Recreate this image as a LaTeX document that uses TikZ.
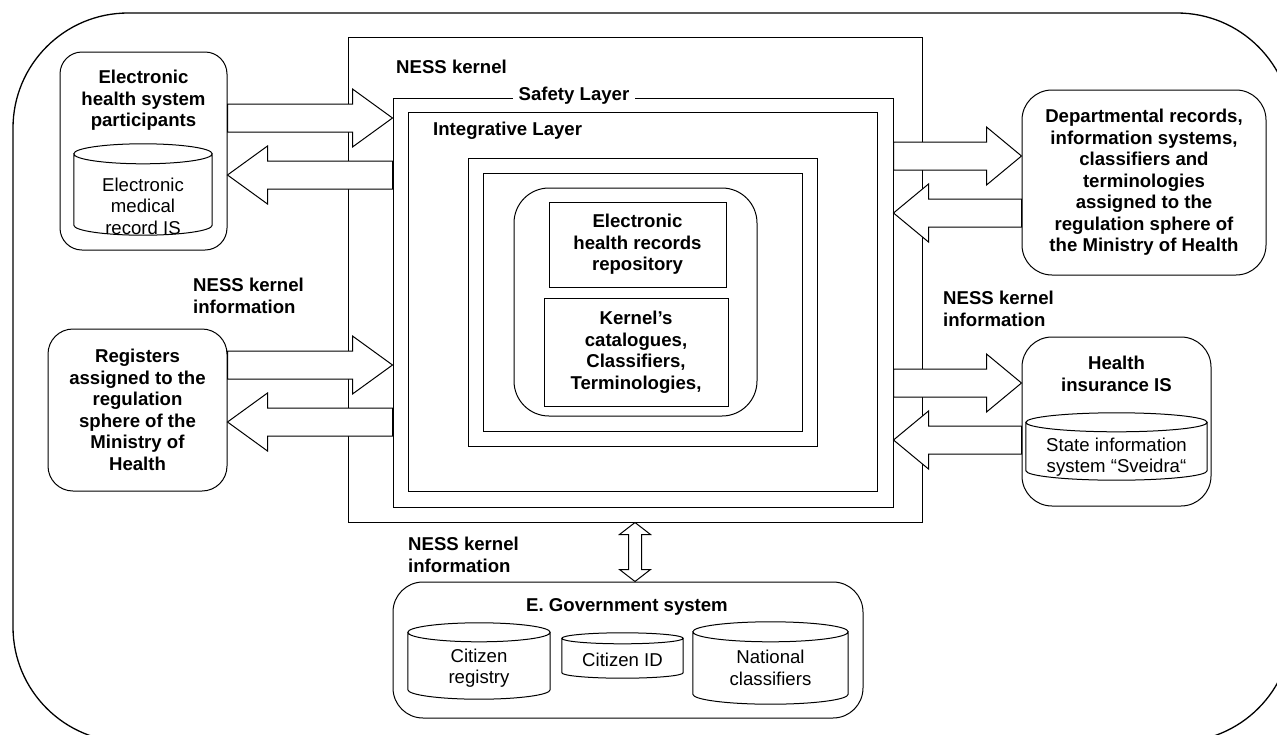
\documentclass[tikz,border=0pt]{standalone}
\usepackage{fontspec}
\setmainfont{Liberation Sans}
\usepackage{tikz}
\usetikzlibrary{calc}
\newcommand{\dfont}{\fontsize{18.6}{21.5}\selectfont}
% cylinder outline round a named node: #1 node, #2 ellipse half height (pt)
\newcommand{\dbdraw}[2]{%
  \draw[line width=1pt, fill=white] let \p1=(#1.north west), \p2=(#1.south east), \n1={(\x2-\x1)/2} in
    (\x1,{\y1-#2pt}) -- (\x1,{\y2+#2pt}) arc[start angle=180, end angle=360, x radius=\n1, y radius=#2pt]
    -- (\x2,{\y1-#2pt}) arc[start angle=0, end angle=180, x radius=\n1, y radius=#2pt] -- cycle
    ({\x1+\n1},{\y1-#2pt}) ellipse [x radius=\n1, y radius=#2pt];}
\tikzset{
  every node/.style={font=\dfont},
  layer/.style={draw, line width=1pt, inner sep=0pt},
  sysbox/.style={draw, rounded corners=25pt, line width=1pt, inner sep=0pt, align=center, font=\dfont\bfseries},
  db/.style={inner sep=0pt},
  title/.style={align=center, inner sep=0pt, font=\dfont\bfseries},
  plain/.style={align=center, inner sep=0pt},
  rblock/.style={draw, fill=white, line width=1pt, to path={
    let \p1=(\tikztostart), \p2=(\tikztotarget), \n1={ifthenelse(\x2>\x1,#1,-#1)} in
    ({\x1},{\y1+14pt}) -- ({\x2-\n1},{\y1+14pt}) -- ({\x2-\n1},{\y1+29pt}) -- ({\x2},{\y1})
    -- ({\x2-\n1},{\y1-29pt}) -- ({\x2-\n1},{\y1-14pt}) -- ({\x1},{\y1-14pt}) -- cycle}},
  rblock/.default=38,
  dblock/.style={draw, fill=white, line width=1pt, to path={
    let \p1=(\tikztostart), \p2=(\tikztotarget) in
    ({\x1},{\y1}) -- ({\x1+15.5pt},{\y1-12pt}) -- ({\x1+6.5pt},{\y1-12pt}) -- ({\x1+6.5pt},{\y2+12pt})
    -- ({\x2+15.5pt},{\y2+12pt}) -- ({\x2},{\y2}) -- ({\x2-15.5pt},{\y2+12pt}) -- ({\x2-6.5pt},{\y2+12pt})
    -- ({\x2-6.5pt},{\y1-12pt}) -- ({\x1-15.5pt},{\y1-12pt}) -- cycle}},
}

\begin{document}
\begin{tikzpicture}[x=1pt, y=-1pt]%
\useasboundingbox (0,0) rectangle (1277,734);%
\draw[line width=1.3pt, rounded corners=115pt] (13,13) rectangle (1292,742);%
% NESS kernel and its layers
\node[layer, minimum width=574pt, minimum height=485pt] (kernel) at (635,279.5) {};%
\node[layer, minimum width=500pt, minimum height=409pt] (safety) at (643,302.5) {};%
\node[layer, minimum width=469pt, minimum height=379pt] (integ) at (642.5,301.5) {};%
\node[layer, minimum width=349pt, minimum height=288pt] (ringa) at (642.5,302) {};%
\node[layer, minimum width=319pt, minimum height=258pt] (ringb) at (642.5,302) {};%
\node[layer, rounded corners=35pt, minimum width=243pt, minimum height=228pt] (core) at (635.5,302) {};%
\node[layer, title, minimum width=177pt, minimum height=85pt] (ehr) at (637.5,244.5) {Electronic\\health records\\repository};%
\node[layer, title, minimum width=184pt, minimum height=108pt] (cat) at (636,352) {Kernel’s\\catalogues,\\Classifiers,\\Terminologies,};%
\node[title, anchor=west] (kerneltitle) at (396,67) {NESS kernel};%
\node[title, fill=white, inner xsep=6pt] (safetytitle) at (574,96) {Safety Layer};%
\node[title, anchor=west] (integtitle) at (433,131) {Integrative Layer};%
% left side
\node[sysbox, rounded corners=22pt, minimum width=167pt, minimum height=198pt] (ehs) at (143.5,151) {};%
\node[title] (ehstitle) at (143.5,100.5) {Electronic\\health system\\participants};%
\node[db, minimum width=138pt, minimum height=91pt] (emr) at (143,189.5) {};%
\dbdraw{emr}{10}%
\node[plain] (emrtext) at (143,206) {Electronic\\medical\\record IS};%
\node[sysbox, minimum width=179pt, minimum height=162pt] (reg) at (137.5,410) {Registers\\assigned to the\\regulation\\sphere of the\\Ministry of\\Health};%
\node[title, anchor=west, align=left] (leftinfo) at (193,296) {NESS kernel\\information};%
% right side
\node[sysbox, rounded corners=30pt, minimum width=244pt, minimum height=185pt] (dept) at (1144,182.5) {Departmental records,\\information systems,\\classifiers and\\terminologies\\assigned to the\\regulation sphere of\\the Ministry of Health};%
\node[sysbox, rounded corners=30pt, minimum width=189pt, minimum height=169pt] (hins) at (1116.5,421.5) {};%
\node[title] (hinstitle) at (1116.5,374) {Health\\insurance IS};%
\node[db, minimum width=181pt, minimum height=67pt] (sveidra) at (1116.5,446.5) {};%
\dbdraw{sveidra}{9.5}%
\node[plain] (sveidratext) at (1116.5,457) {State information\\system “Sveidra“};%
\node[title, anchor=west, align=left] (rightinfo) at (943,309) {NESS kernel\\information};%
% bottom
\node[sysbox, rounded corners=30pt, minimum width=470pt, minimum height=136pt] (egov) at (628,650) {};%
\node[title] (egovtitle) at (627,607) {E. Government system};%
\node[db, minimum width=142pt, minimum height=76pt] (cregistry) at (479,661) {};%
\dbdraw{cregistry}{9.5}%
\node[plain] (cregistrytext) at (479,668) {Citizen\\registry};%
\node[db, minimum width=121pt, minimum height=45pt] (cid) at (622.5,655.5) {};%
\dbdraw{cid}{5.5}%
\node[plain] (cidtext) at (622.5,660) {Citizen ID};%
\node[db, minimum width=155pt, minimum height=82pt] (nclass) at (770.5,663) {};%
\dbdraw{nclass}{10}%
\node[plain] (nclasstext) at (770.5,668) {National\\classifiers};%
\node[title, anchor=west, align=left] (bottominfo) at (408,555) {NESS kernel\\information};%
% block arrows
\draw[rblock=40] (ehs.east |- 0,118) to (safety.west |- 0,118);%
\draw[rblock=40] (safety.west |- 0,175) to (ehs.east |- 0,175);%
\draw[rblock=40] (reg.east |- 0,365) to (safety.west |- 0,365);%
\draw[rblock=40] (safety.west |- 0,422) to (reg.east |- 0,422);%
\draw[rblock=35] (safety.east |- 0,156) to (dept.west |- 0,156);%
\draw[rblock=35] (dept.west |- 0,213) to (safety.east |- 0,213);%
\draw[rblock=35] (safety.east |- 0,383) to (hins.west |- 0,383);%
\draw[rblock=35] (hins.west |- 0,440) to (safety.east |- 0,440);%
\draw[dblock] (kernel.south) to (kernel.south |- egov.north);%
\end{tikzpicture}
\end{document}
